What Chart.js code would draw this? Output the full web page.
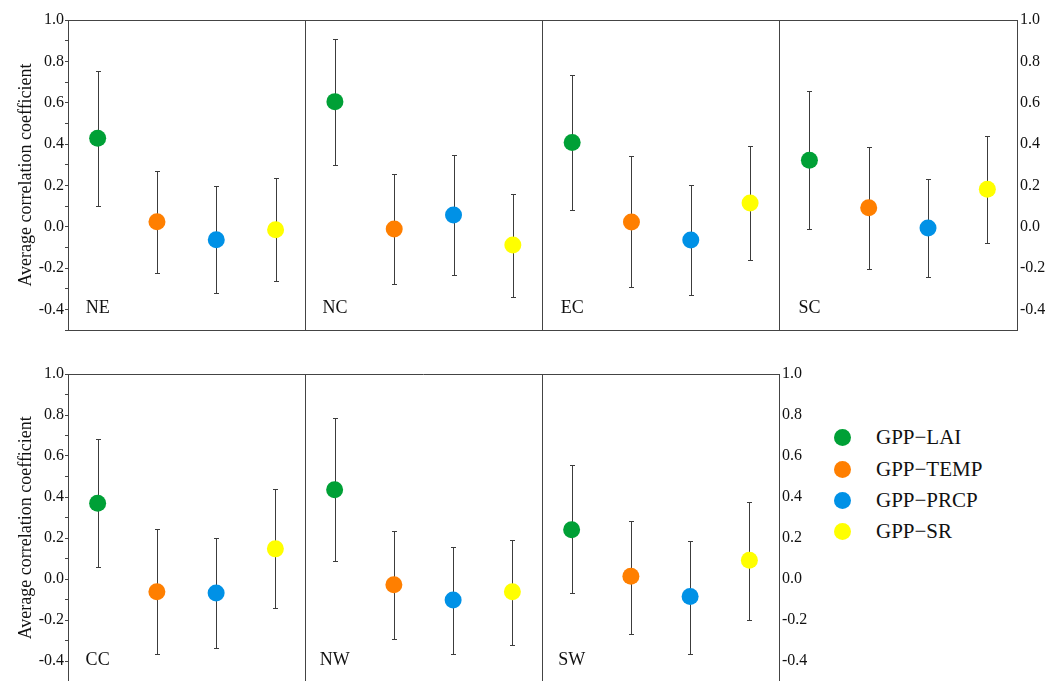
<!DOCTYPE html>
<html>
<head>
<meta charset="utf-8">
<script src="https://cdn.jsdelivr.net/npm/chart.js"></script>
<style>
  html, body { margin: 0; padding: 0; background: #fff; overflow: hidden; width: 1058px; height: 681px; }
  canvas { position: absolute; left: 0; }
  #topChart { top: 0; }
  #bottomChart { top: 344px; }
  #legend { position: absolute; left: 834px; top: 422px; font-family: 'Liberation Serif', serif; font-size: 21px; color: #111; }
  .item { height: 31.4px; display: flex; align-items: center; }
  .dot { width: 17px; height: 17px; border-radius: 50%; margin-right: 25px; }
</style>
</head>
<body>
<canvas id="topChart" width="1058" height="340"></canvas>
<canvas id="bottomChart" width="820" height="346"></canvas>
<div id="legend"></div>

<script>
// regions, in drawing order (top row then bottom row)
const regions = ['NE', 'NC', 'EC', 'SC', 'CC', 'NW', 'SW'];
const seriesNames = ['GPP\u2212LAI', 'GPP\u2212TEMP', 'GPP\u2212PRCP', 'GPP\u2212SR'];
const seriesColors = ['#00a036', '#ff7f00', '#0091e6', '#ffff00'];

// mean correlation and error bar ends, per region
const laiMean  = [0.428, 0.605, 0.407, 0.321, 0.370, 0.435, 0.240];
const laiLow   = [0.100, 0.299, 0.081, -0.011, 0.058, 0.088, -0.068];
const laiHigh  = [0.752, 0.907, 0.733, 0.657, 0.684, 0.785, 0.555];

const tempMean = [0.024, -0.011, 0.023, 0.091, -0.062, -0.028, 0.013];
const tempLow  = [-0.224, -0.278, -0.294, -0.203, -0.365, -0.292, -0.268];
const tempHigh = [0.271, 0.257, 0.340, 0.384, 0.243, 0.232, 0.285];

const prcpMean = [-0.063, 0.057, -0.065, -0.006, -0.068, -0.102, -0.085];
const prcpLow  = [-0.321, -0.232, -0.331, -0.244, -0.339, -0.368, -0.364];
const prcpHigh = [0.197, 0.345, 0.202, 0.231, 0.202, 0.157, 0.186];

const srMean   = [-0.015, -0.089, 0.115, 0.181, 0.147, -0.062, 0.092];
const srLow    = [-0.263, -0.339, -0.163, -0.079, -0.141, -0.321, -0.198];
const srHigh   = [0.234, 0.158, 0.392, 0.437, 0.438, 0.191, 0.378];

const yTicksMin = -0.5, yTicksMax = 1.0, yStep = 0.1;

const series = [
  [laiMean, laiLow, laiHigh],
  [tempMean, tempLow, tempHigh],
  [prcpMean, prcpLow, prcpHigh],
  [srMean, srLow, srHigh]
];

const serif = 'Liberation Serif';

// error bars behind the markers
const errorBars = {
  id: 'errorBars',
  beforeDatasetsDraw(chart) {
    const { ctx, scales: { x, y } } = chart;
    ctx.save();
    ctx.strokeStyle = '#3c3c3c';
    ctx.lineWidth = 1;
    chart.data.datasets.forEach(ds => ds.data.forEach(p => {
      const px = Math.round(x.getPixelForValue(p.x)) + 0.5;
      const yl = Math.round(y.getPixelForValue(p.lo)) + 0.5;
      const yh = Math.round(y.getPixelForValue(p.hi)) + 0.5;
      ctx.beginPath();
      ctx.moveTo(px, yl); ctx.lineTo(px, yh);
      ctx.moveTo(px - 2.5, yl); ctx.lineTo(px + 2.5, yl);
      ctx.moveTo(px - 2.5, yh); ctx.lineTo(px + 2.5, yh);
      ctx.stroke();
    }));
    ctx.restore();
  }
};

// top edge of the frame and region names
const panelDecor = {
  id: 'panelDecor',
  afterDraw(chart, args, opts) {
    const { ctx, chartArea: a, scales: { x } } = chart;
    ctx.save();
    ctx.strokeStyle = '#444';
    ctx.lineWidth = 1;
    ctx.beginPath();
    ctx.moveTo(a.left, Math.round(a.top) + 0.5);
    ctx.lineTo(a.right, Math.round(a.top) + 0.5);
    ctx.stroke();
    ctx.fillStyle = '#111';
    ctx.font = '18px "' + serif + '"';
    ctx.textAlign = 'center';
    ctx.textBaseline = 'alphabetic';
    opts.names.forEach((n, i) => {
      ctx.fillText(n, x.getPixelForValue(i * 4 + 0.5), a.bottom - 17);
    });
    ctx.restore();
  }
};

function tickLabel(v) {
  const t = Math.round(v * 10);
  return (t % 2 === 0 && t > -5) ? (t / 10).toFixed(1) : '';
}

function fitY(width) {
  return s => {
    s.width = width;
    s.paddingTop = 0;
    s.paddingBottom = 0;
  };
}

function makeChart(id, start, count, padTop, padBottom) {
  const names = regions.slice(start, start + count);
  const datasets = series.map((s, k) => ({
    label: seriesNames[k],
    data: names.map((n, i) => ({
      x: i * 4 + k + 0.5,
      y: s[0][start + i],
      lo: s[1][start + i],
      hi: s[2][start + i]
    })),
    backgroundColor: seriesColors[k],
    borderWidth: 0,
    pointRadius: 8.5,
    pointHoverRadius: 8.5
  }));

  return new Chart(document.getElementById(id), {
    type: 'scatter',
    data: { datasets },
    options: {
      responsive: false,
      animation: false,
      layout: { padding: { top: padTop, bottom: padBottom, left: 0, right: 0 } },
      plugins: {
        legend: { display: false },
        tooltip: { enabled: false },
        panelDecor: { names }
      },
      scales: {
        x: {
          type: 'linear', min: 0, max: count * 4,
          afterFit: s => { s.height = 0; s.paddingLeft = 0; s.paddingRight = 0; },
          ticks: { display: false, stepSize: 4 },
          grid: { color: '#444', drawTicks: false },
          border: { color: '#444' }
        },
        y: {
          type: 'linear', position: 'left',
          min: yTicksMin, max: yTicksMax,
          afterFit: fitY(68),
          ticks: { stepSize: yStep, autoSkip: false, padding: 1, color: '#111',
                   font: { family: serif, size: 16 }, callback: tickLabel },
          grid: { drawOnChartArea: false, tickLength: 3, color: '#444' },
          border: { color: '#444' },
          title: { display: true, text: 'Average correlation coefficient', color: '#111',
                   font: { family: serif, size: 18 }, padding: { top: 15, bottom: 0 } }
        },
        y2: {
          type: 'linear', position: 'right',
          min: yTicksMin, max: yTicksMax,
          afterFit: fitY(41),
          ticks: { stepSize: yStep, autoSkip: false, padding: 3, color: '#111',
                   font: { family: serif, size: 16 }, callback: tickLabel },
          grid: { drawOnChartArea: false, drawTicks: false },
          border: { color: '#444' }
        }
      }
    },
    plugins: [errorBars, panelDecor]
  });
}

makeChart('topChart', 0, 4, 20, 10);
makeChart('bottomChart', 4, 3, 30, 8);

const legend = document.getElementById('legend');
seriesNames.forEach((n, k) => {
  const row = document.createElement('div');
  row.className = 'item';
  row.innerHTML = '<span class="dot" style="background:' + seriesColors[k] + '"></span><span>' + n + '</span>';
  legend.appendChild(row);
});
</script>
</body>
</html>
